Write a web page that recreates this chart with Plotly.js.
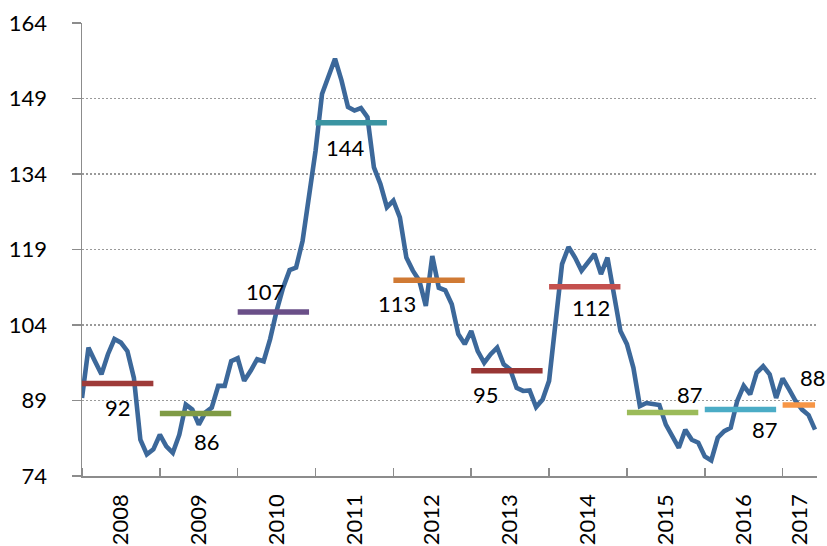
<!DOCTYPE html>
<html>
<head>
<meta charset="utf-8">
<script src="https://cdn.plot.ly/plotly-3.0.1.min.js"></script>
<style>html,body{margin:0;padding:0;background:#fff}#chart{width:827px;height:546px}</style>
</head>
<body>
<div id="chart"></div>
<script>
// Monthly index values, one array per year
const values2008 = [89.5, 99.5, 96.8, 94.2, 98.2, 101.2, 100.5, 98.8, 93.5, 81.2, 78.3, 79.3];
const values2009 = [82.2, 79.9, 78.6, 82.2, 88.2, 87.2, 84.2, 86.6, 87.6, 91.9, 91.9, 96.8];
const values2010 = [97.4, 92.9, 94.9, 97.2, 96.8, 101.2, 106.8, 111.4, 114.9, 115.4, 120.7, 129.4];
const values2011 = [138.6, 149.9, 153.2, 156.9, 152.6, 147.3, 146.6, 147.1, 145.3, 135.3, 132.0, 127.4];
const values2012 = [128.7, 125.4, 117.4, 114.8, 112.8, 107.8, 117.7, 111.4, 110.9, 108.1, 102.2, 100.2];
const values2013 = [102.8, 98.8, 96.5, 98.2, 99.5, 96.2, 95.2, 91.5, 90.9, 91.0, 87.7, 89.2];
const values2014 = [92.9, 104.1, 116.1, 119.5, 117.4, 114.8, 116.4, 118.1, 114.1, 117.4, 110.1, 102.8];
const values2015 = [100.2, 95.5, 87.9, 88.5, 88.3, 88.1, 84.2, 81.9, 79.6, 83.2, 81.2, 80.6];
const values2016 = [77.9, 77.1, 81.6, 82.9, 83.6, 88.9, 91.9, 90.2, 94.5, 95.8, 94.2, 89.5];
const values2017 = [93.4, 91.2, 88.9, 87.2, 86.1, 83.2];

const years = ['2008', '2009', '2010', '2011', '2012', '2013', '2014', '2015', '2016', '2017'];
const annualAvg = [92.4, 86.4, 106.6, 144.2, 112.9, 94.9, 111.6, 86.6, 87.2, 88.1];

// ---- styling (not data) ----
const avgColors = ['#9E3B39', '#7F9B45', '#6A4F88', '#3A94A2', '#D07A34', '#983634', '#C4504E', '#9BBB59', '#4BACC6', '#F79646'];
const labelShift = [[0, -24], [11, -28], [-8, 20], [-6, -25], [-32, -23], [-21, -24], [6, -21], [27, 18], [25, -20], [14, 28]];
const FONT = 'Lato, "Open Sans", sans-serif';

const yearValues = [values2008, values2009, values2010, values2011, values2012, values2013, values2014, values2015, values2016, values2017];
const monthly = [].concat(...yearValues);
const xMonth = monthly.map((_, i) => i);
const xMax = monthly.length - 1 + 0.3;

const traces = [{
  x: xMonth, y: monthly, type: 'scatter', mode: 'lines',
  line: {color: '#3C689A', width: 4.6}, hoverinfo: 'x+y'
}];

const annotations = [];
const labelPos = [];
const boundaries = [];
let start = 0;
yearValues.forEach((vals, i) => {
  const n = vals.length;
  boundaries.push(start);
  traces.push({
    x: [start, start + n - 1], y: [annualAvg[i], annualAvg[i]],
    type: 'scatter', mode: 'lines',
    line: {color: avgColors[i], width: 5.5}, hoverinfo: 'y'
  });
  annotations.push({
    x: start + (n - 1) / 2, y: annualAvg[i], xref: 'x', yref: 'y',
    text: String(Math.round(annualAvg[i])), showarrow: false,
    xshift: labelShift[i][0], yshift: labelShift[i][1],
    font: {family: FONT, size: 22, color: '#000'}
  });
  labelPos.push((start + Math.min(start + 12, xMax)) / 2);
  start += n;
});

const layout = {
  width: 827, height: 546,
  margin: {l: 82, r: 9.5, t: 23, b: 70, pad: 0},
  paper_bgcolor: '#fff', plot_bgcolor: '#fff',
  showlegend: false,
  font: {family: FONT, size: 22, color: '#000'},
  xaxis: {
    range: [0, xMax], showgrid: false, zeroline: false,
    showline: true, linecolor: '#8C8C8C', linewidth: 1.5,
    tickmode: 'array', tickvals: labelPos, ticktext: years,
    ticks: '', tickangle: -90, ticklabelstandoff: 8,
    tickfont: {family: FONT, size: 22, color: '#000'},
    minor: {tickmode: 'array', tickvals: boundaries, ticks: 'inside', ticklen: 8, tickcolor: '#8C8C8C', tickwidth: 1.5, showgrid: false}
  },
  yaxis: {
    range: [74, 164], tick0: 74, dtick: 15, tickmode: 'linear',
    showgrid: true, gridcolor: '#9A9A9A', gridwidth: 1.3, griddash: '1.5px,2.5px',
    zeroline: false, showline: true, linecolor: '#8C8C8C', linewidth: 1.5,
    ticks: 'outside', ticklen: 9, tickcolor: '#8C8C8C', tickwidth: 1.5,
    ticklabelstandoff: 20,
    tickfont: {family: FONT, size: 22, color: '#000'}
  },
  annotations: annotations
};

Plotly.newPlot('chart', traces, layout, {displayModeBar: false, staticPlot: true});
</script>
</body>
</html>
